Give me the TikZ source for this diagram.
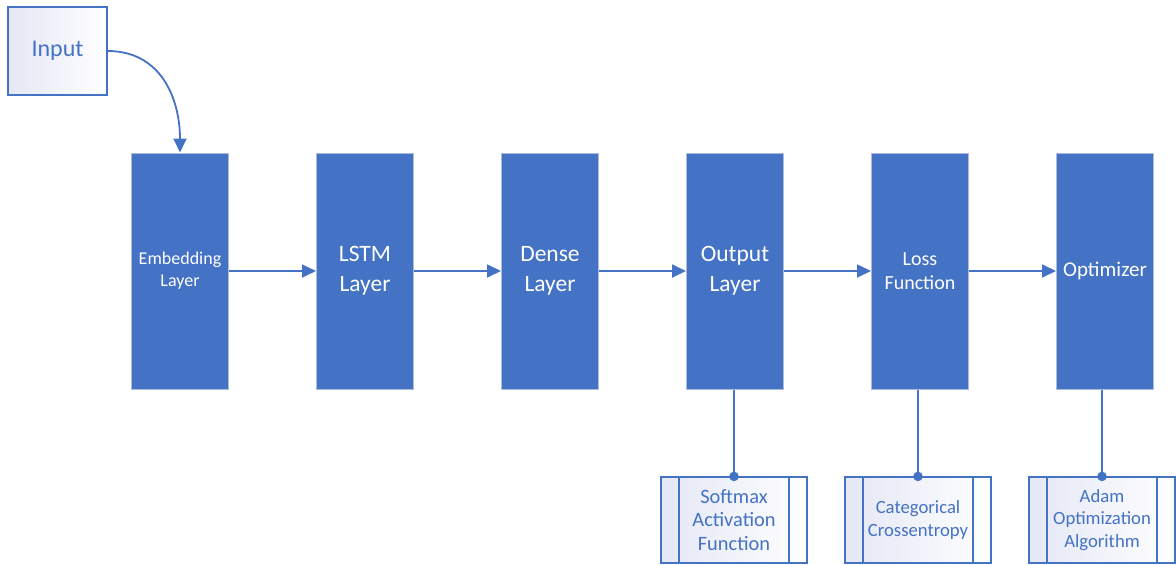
\documentclass[tikz,border=0pt]{standalone}
\usepackage{fontspec}
\setmainfont{Carlito}
\usetikzlibrary{arrows.meta}
\definecolor{layerblue}{RGB}{68,114,196}
\definecolor{edgeblue}{RGB}{170,188,218}
\definecolor{paleblue}{RGB}{228,231,245}

\tikzset{
  layer/.style={draw=edgeblue, line width=1pt, fill=layerblue, text=white,
    minimum width=97pt, minimum height=236pt, inner sep=0pt, align=center},
  process/.style={draw=layerblue, line width=1.2pt, left color=paleblue, right color=white,
    minimum width=146pt, minimum height=86pt, inner sep=0pt, align=center, text=layerblue,
    font=\fontsize{18.7}{22.5}\selectfont,
    path picture={
      \draw[layerblue, line width=1.2pt] ([xshift=18pt]path picture bounding box.north west) -- ([xshift=18pt]path picture bounding box.south west);
      \draw[layerblue, line width=1.2pt] ([xshift=-18pt]path picture bounding box.north east) -- ([xshift=-18pt]path picture bounding box.south east);
    }},
  flow/.style={-{Triangle[length=14pt, width=13pt]}, draw=layerblue, line width=1.8pt},
  link/.style={draw=layerblue, line width=1.8pt},
}

\begin{document}
\begin{tikzpicture}[x=1pt, y=-1pt]
\useasboundingbox (0,0) rectangle (1176,565);

% Input box
\node[draw=layerblue, line width=1.3pt, left color=paleblue, right color=white, text=layerblue,
  minimum width=99pt, minimum height=88pt, inner sep=0pt, font=\fontsize{24}{29}\selectfont]
  (in) at (57.5,51) {Input};

% Layers of the network
\node[layer, font=\fontsize{18}{22}\selectfont] (emb) at (180,271) {Embedding\\Layer};
\node[layer, font=\fontsize{23.5}{30}\selectfont] (lstm) at (365,271) {LSTM\\Layer};
\node[layer, font=\fontsize{23.5}{30}\selectfont] (dense) at (550,271) {Dense\\Layer};
\node[layer, font=\fontsize{23.5}{30}\selectfont] (out) at (735,271) {Output\\Layer};
\node[layer, font=\fontsize{20}{24.5}\selectfont] (loss) at (920,271) {Loss\\Function};
\node[layer, font=\fontsize{21}{25}\selectfont] (opt) at (1105,271) {Optimizer};

% Details below
\node[process, font=\fontsize{20.4}{23.5}\selectfont] (soft) at (734,520) {Softmax\\Activation\\Function};
\node[process] (cce) at (918,520) {Categorical\\Crossentropy};
\node[process] (adam) at (1102,520) {Adam\\Optimization\\Algorithm};

% Arrows
\draw[flow] (in.east) to[out=0, in=90, looseness=1.1] (emb.north);
\draw[flow] (emb) -- (lstm);
\draw[flow] (lstm) -- (dense);
\draw[flow] (dense) -- (out);
\draw[flow] (out) -- (loss);
\draw[flow] (loss) -- (opt);

% Connectors with dots
\draw[link] (soft.north |- out.south) -- (soft.north);
\draw[link] (cce.north |- loss.south) -- (cce.north);
\draw[link] (adam.north |- opt.south) -- (adam.north);
\fill[layerblue] (soft.north) circle (4.8pt);
\fill[layerblue] (cce.north) circle (4.8pt);
\fill[layerblue] (adam.north) circle (4.8pt);
\end{tikzpicture}
\end{document}
